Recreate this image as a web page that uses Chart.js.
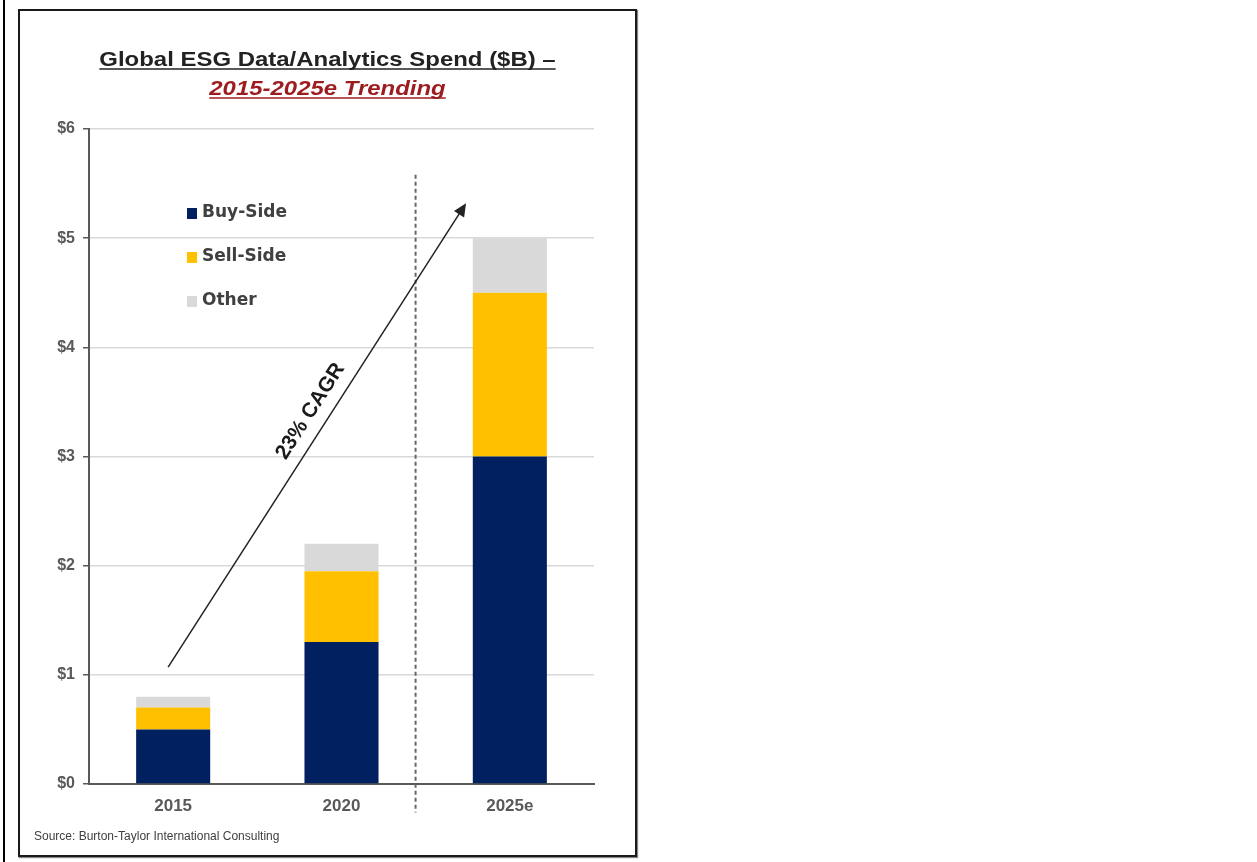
<!DOCTYPE html>
<html>
<head>
<meta charset="utf-8">
<script src="https://cdn.jsdelivr.net/npm/chart.js@4/dist/chart.umd.min.js"></script>
<style>
  body { margin: 0; background: #fff; width: 1257px; height: 862px; position: relative; overflow: hidden; }
  #leftRule { position: absolute; left: 3px; top: 0; width: 2px; height: 862px; background: #000; }
  #frame { position: absolute; left: 18px; top: 9px; width: 615px; height: 844px; border: 2px solid #1a1a1a; box-shadow: 1px 1px 1px #888; }
  #chart { display: block; }
</style>
</head>
<body>
<div id="leftRule"></div>
<div id="frame"><canvas id="chart" width="615" height="844"></canvas></div>
<script>
// Global ESG data / analytics spend, $B
const years = ["2015", "2020", "2025e"];
const buySide = [0.5, 1.3, 3.0];
const sellSide = [0.2, 0.65, 1.5];
const other = [0.1, 0.25, 0.5];
const yTicks = [0, 1, 2, 3, 4, 5, 6];

const seriesNames = ["Buy-Side", "Sell-Side", "Other"];
const seriesColors = ["#002060", "#FFC000", "#D9D9D9"];

const titleLine1 = "Global ESG Data/Analytics Spend ($B) \u2013";
const titleLine2 = "2015-2025e Trending";
const cagrLabel = "23% CAGR";
const sourceNote = "Source: Burton-Taylor International Consulting";

// annotation anchors in chart units (category index, $B)
const arrowFrom = [-0.03, 1.07];
const arrowTo = [1.74, 5.32];
const dividerX = 1.44;
const dividerSpan = [-0.26, 5.58];

// title text is a bit wider than the font draws it, so stretch it
function underlineText(ctx, txt, x, y, color, stretch) {
  ctx.save();
  ctx.translate(x, y);
  ctx.scale(stretch, 1);
  ctx.fillStyle = color;
  ctx.fillText(txt, 0, 0);
  const w = ctx.measureText(txt).width;
  ctx.strokeStyle = color;
  ctx.lineWidth = 1.5;
  ctx.beginPath();
  ctx.moveTo(-w / 2, 3);
  ctx.lineTo(w / 2, 3);
  ctx.stroke();
  ctx.restore();
}

const extras = {
  id: "extras",
  afterDraw(chart) {
    const ctx = chart.ctx;
    const xs = chart.scales.x, ys = chart.scales.y;
    const cx = chart.width / 2;

    // title
    ctx.save();
    ctx.textAlign = "center";
    ctx.textBaseline = "alphabetic";
    ctx.font = "bold 21px 'Liberation Sans', Arial, sans-serif";
    underlineText(ctx, titleLine1, cx, 55, "#222", 1.14);
    ctx.font = "italic bold 21px 'Liberation Sans', Arial, sans-serif";
    underlineText(ctx, titleLine2, cx, 84, "#9C1C1F", 1.14);
    ctx.restore();

    // divider
    ctx.save();
    ctx.strokeStyle = "#666";
    ctx.lineWidth = 2;
    ctx.setLineDash([4, 3]);
    const dx = xs.getPixelForValue(dividerX);
    ctx.beginPath();
    ctx.moveTo(dx, ys.getPixelForValue(dividerSpan[1]));
    ctx.lineTo(dx, ys.getPixelForValue(dividerSpan[0]));
    ctx.stroke();
    ctx.restore();

    // CAGR arrow
    const x1 = xs.getPixelForValue(arrowFrom[0]), y1 = ys.getPixelForValue(arrowFrom[1]);
    const x2 = xs.getPixelForValue(arrowTo[0]), y2 = ys.getPixelForValue(arrowTo[1]);
    const ang = Math.atan2(y2 - y1, x2 - x1);
    ctx.save();
    ctx.strokeStyle = "#222";
    ctx.fillStyle = "#222";
    ctx.lineWidth = 1.5;
    ctx.beginPath();
    ctx.moveTo(x1, y1);
    ctx.lineTo(x2 - 8 * Math.cos(ang), y2 - 8 * Math.sin(ang));
    ctx.stroke();
    ctx.translate(x2, y2);
    ctx.rotate(ang);
    ctx.beginPath();
    ctx.moveTo(0, 0);
    ctx.lineTo(-13, -6);
    ctx.lineTo(-13, 6);
    ctx.closePath();
    ctx.fill();
    ctx.restore();

    const t = 0.53;
    const mx = x1 + (x2 - x1) * t, my = y1 + (y2 - y1) * t;
    ctx.save();
    ctx.translate(mx, my);
    ctx.rotate(ang);
    ctx.font = "bold 21px 'Liberation Sans', Arial, sans-serif";
    ctx.fillStyle = "#1a1a1a";
    ctx.textAlign = "center";
    ctx.textBaseline = "bottom";
    ctx.fillText(cagrLabel, 0, -8);
    ctx.restore();

    // legend
    ctx.save();
    ctx.font = "bold 17px 'DejaVu Sans', sans-serif";
    ctx.textBaseline = "middle";
    ctx.textAlign = "left";
    seriesNames.forEach((name, i) => {
      const ly = 202 + i * 44;
      ctx.fillStyle = seriesColors[i];
      ctx.fillRect(167, ly - 5, 10, 11);
      ctx.fillStyle = "#404040";
      ctx.fillText(name, 182, ly);
    });
    ctx.restore();

    // source
    ctx.save();
    ctx.font = "12px 'Liberation Sans', Arial, sans-serif";
    ctx.fillStyle = "#404040";
    ctx.textBaseline = "middle";
    ctx.fillText(sourceNote, 14, 826);
    ctx.restore();
  }
};

const datasets = [buySide, sellSide, other].map((vals, i) => ({
  label: seriesNames[i],
  data: vals,
  backgroundColor: seriesColors[i],
  borderWidth: 0,
  barPercentage: 0.44,
  categoryPercentage: 1
}));

new Chart(document.getElementById("chart"), {
  type: "bar",
  data: { labels: years, datasets: datasets },
  options: {
    responsive: false,
    animation: false,
    layout: { padding: { top: 118, right: 41, left: 0, bottom: 0 } },
    plugins: { legend: { display: false }, tooltip: { enabled: false } },
    scales: {
      x: {
        stacked: true,
        grid: { display: false, drawTicks: false },
        border: { color: "#595959", width: 2 },
        ticks: { color: "#595959", font: { family: "'Liberation Sans', Arial, sans-serif", size: 17, weight: "bold" }, padding: 12 },
        afterFit(scale) { scale.height = 71; }
      },
      y: {
        stacked: true,
        min: 0,
        max: 6,
        afterBuildTicks(scale) { scale.ticks = yTicks.map(v => ({ value: v })); },
        grid: { color: "#D9D9D9", lineWidth: 1.5, tickColor: "#595959", tickLength: 6 },
        border: { color: "#595959", width: 2 },
        ticks: {
          color: "#595959",
          padding: 8,
          font: { family: "'Liberation Sans', Arial, sans-serif", size: 16, weight: "bold" },
          callback: v => "$" + v
        },
        afterFit(scale) { scale.width = 69; }
      }
    }
  },
  plugins: [extras]
});
</script>
</body>
</html>
